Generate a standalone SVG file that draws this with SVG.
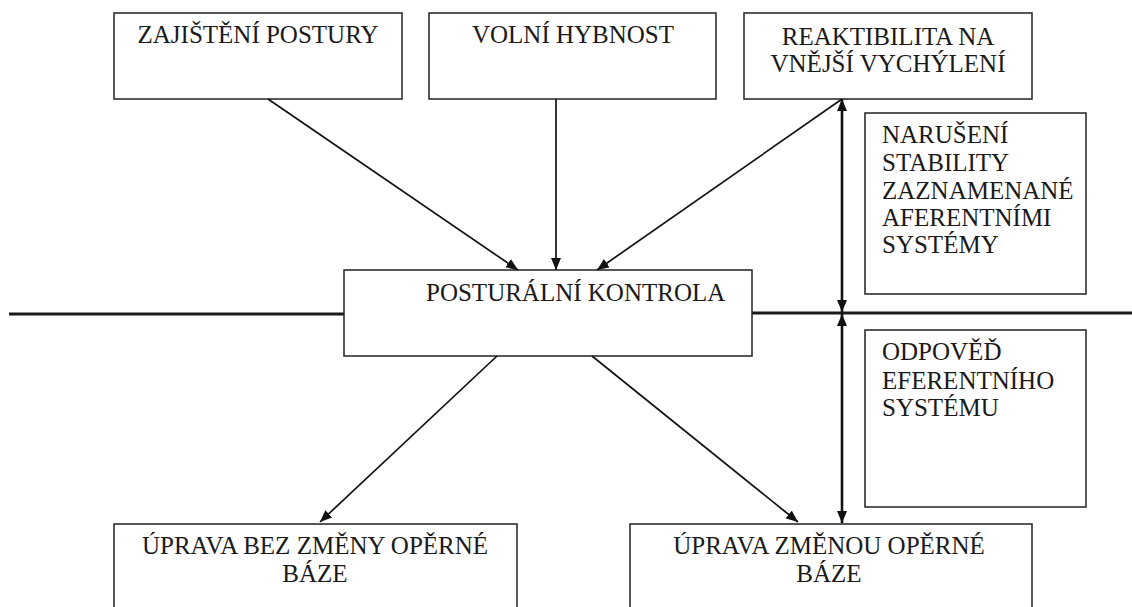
<svg xmlns="http://www.w3.org/2000/svg" width="1132" height="607" viewBox="0 0 1132 607">
<style>
.box{fill:#fff;stroke:#222;stroke-width:1.5}
.t{font-family:"Liberation Serif","Times New Roman",serif;font-size:25px;fill:#1a1a1a}
.c{text-anchor:middle}
.thin{stroke:#111;stroke-width:1.7;fill:none}
.thick{stroke:#111;stroke-width:2.6;fill:none}
.axis{stroke:#1a1a1a;stroke-width:3;fill:none}
</style>
<defs>
<marker id="ah" viewBox="0 0 12 10" refX="12" refY="5" markerWidth="12" markerHeight="10" markerUnits="userSpaceOnUse" orient="auto-start-reverse">
<path d="M0,0 L12,5 L0,10 z" fill="#111"/>
</marker>
</defs>
<rect width="1132" height="607" fill="#fff"/>
<g id="axis">
<line class="axis" x1="9" y1="314" x2="344" y2="314"/>
<line class="axis" x1="752" y1="313" x2="1132" y2="313"/>
</g>
<g id="n-zajisteni"><rect class="box" x="114" y="13" width="288" height="86"/><text class="t c" x="258" y="43">ZAJIŠTĚNÍ POSTURY</text></g>
<g id="n-volni"><rect class="box" x="429" y="13" width="287" height="86"/><text class="t c" x="573" y="43">VOLNÍ HYBNOST</text></g>
<g id="n-reaktibilita"><rect class="box" x="744" y="13" width="288" height="86"/><text class="t c" x="888" y="45">REAKTIBILITA NA</text><text class="t c" x="888" y="72">VNĚJŠÍ VYCHÝLENÍ</text></g>
<g id="n-naruseni"><rect class="box" x="865" y="113" width="221" height="181"/><text class="t" x="882" y="143">NARUŠENÍ</text><text class="t" x="882" y="171">STABILITY</text><text class="t" x="882" y="199">ZAZNAMENANÉ</text><text class="t" x="882" y="226">AFERENTNÍMI</text><text class="t" x="882" y="253">SYSTÉMY</text></g>
<g id="n-odpoved"><rect class="box" x="865" y="330" width="221" height="177"/><text class="t" x="882" y="360">ODPOVĚĎ</text><text class="t" x="882" y="389">EFERENTNÍHO</text><text class="t" x="882" y="416">SYSTÉMU</text></g>
<g id="n-posturalni"><rect class="box" x="344" y="270" width="408" height="86"/><text class="t" x="426" y="301">POSTURÁLNÍ KONTROLA</text></g>
<g id="n-bez"><rect class="box" x="114" y="524" width="403" height="100"/><text class="t c" x="315" y="554">ÚPRAVA BEZ ZMĚNY OPĚRNÉ</text><text class="t c" x="315" y="582">BÁZE</text></g>
<g id="n-zmenou"><rect class="box" x="630" y="524" width="402" height="100"/><text class="t c" x="829" y="554">ÚPRAVA ZMĚNOU OPĚRNÉ</text><text class="t c" x="829" y="582">BÁZE</text></g>
<g id="connectors">
<line class="thin" x1="268" y1="99" x2="518" y2="270" marker-end="url(#ah)"/>
<line class="thin" x1="556" y1="99" x2="556" y2="270" marker-end="url(#ah)"/>
<line class="thin" x1="842" y1="99" x2="597" y2="270" marker-end="url(#ah)"/>
<line class="thin" x1="497" y1="356" x2="320" y2="522" marker-end="url(#ah)"/>
<line class="thin" x1="592" y1="356" x2="798" y2="522" marker-end="url(#ah)"/>
<line class="thick" x1="842" y1="99" x2="842" y2="312" marker-start="url(#ah)" marker-end="url(#ah)"/>
<line class="thick" x1="842" y1="314" x2="842" y2="523" marker-start="url(#ah)" marker-end="url(#ah)"/>
</g>
</svg>
